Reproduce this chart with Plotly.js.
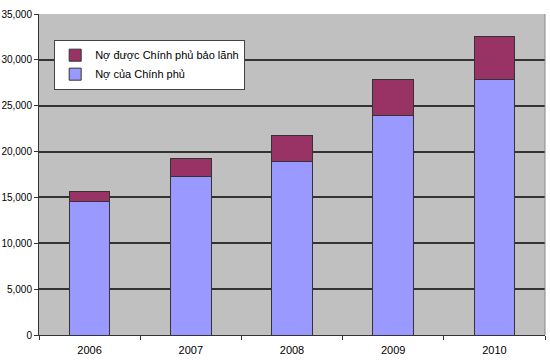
<!DOCTYPE html>
<html><head><meta charset="utf-8">
<script src="https://cdn.plot.ly/plotly-3.0.1.min.js"></script>
<style>body{margin:0;background:#fff}#c{width:550px;height:364px}</style>
</head><body><div id="c"></div>
<script>
const years = ['2006','2007','2008','2009','2010'];
const govDebt = [14600, 17300, 18900, 23900, 27900];
const guaranteedDebt = [1000, 1900, 2900, 4000, 4600];
const tickVals = [0,5000,10000,15000,20000,25000,30000,35000];
const tickText = ['0','5,000','10,000','15,000','20,000','25,000','30,000','35,000'];

const traces = [
  {type:'bar', name:'Nợ của Chính phủ', x:years, y:govDebt,
   marker:{color:'#9999ff', line:{color:'#333333', width:1}}},
  {type:'bar', name:'Nợ được Chính phủ bảo lãnh', x:years, y:guaranteedDebt,
   marker:{color:'#993366', line:{color:'#333333', width:1}}}
];
const layout = {
  width:550, height:364,
  margin:{l:39, r:5, t:14, b:29},
  paper_bgcolor:'#ffffff', plot_bgcolor:'#c0c0c0',
  barmode:'stack', bargap:0.6,
  font:{family:'"Liberation Sans", Arial, sans-serif', size:10, color:'#000'},
  xaxis:{type:'category', ticks:'outside', tickson:'boundaries', ticklen:4, tickcolor:'#333',
         showline:true, linecolor:'#333', linewidth:1, tickfont:{size:11}, showgrid:false,
         ticklabelstandoff:5},
  yaxis:{range:[0,35000], tickvals:tickVals, ticktext:tickText, ticks:'outside', ticklen:4,
         tickcolor:'#333', showline:true, linecolor:'#333', linewidth:1,
         gridcolor:'#333333', gridwidth:1.5, zeroline:false, tickfont:{size:10}},
  showlegend:true,
  legend:{x:0.03, y:0.92, xanchor:'left', yanchor:'top', bgcolor:'#ffffff',
          bordercolor:'#444', borderwidth:1, font:{size:11}, itemwidth:30,
          tracegroupgap:0},
  shapes:[{type:'line', xref:'paper', yref:'paper', x0:1, x1:1, y0:0, y1:1,
           line:{color:'#888', width:1}}]
};
Plotly.newPlot('c', traces, layout, {displayModeBar:false});
</script></body></html>
